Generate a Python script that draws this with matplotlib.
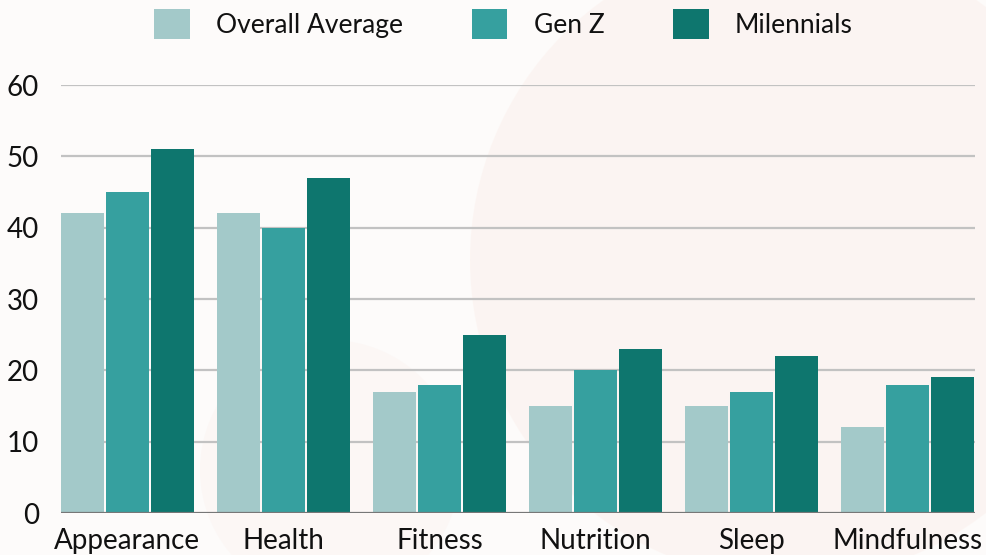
import matplotlib
matplotlib.use("Agg")
import matplotlib.pyplot as plt
from matplotlib.patches import Patch, Ellipse
import numpy as np

categories = ["Appearance", "Health", "Fitness", "Nutrition", "Sleep", "Mindfulness"]
overall_average = [42, 42, 17, 15, 15, 12]
gen_z = [45, 40, 18, 20, 17, 18]
millennials = [51, 47, 25, 23, 22, 19]
series_names = ["Overall Average", "Gen Z", "Milennials"]
colors = ["#a3c9c9", "#36a09f", "#0e766e"]
yticks = [0, 10, 20, 30, 40, 50, 60]

plt.rcParams['font.family'] = ['Lato', 'DejaVu Sans']

W, H = 987, 555
fig = plt.figure(figsize=(W / 100, H / 100), dpi=100)
fig.patch.set_facecolor("#fdfbfa")

# faint background decoration
bg = fig.add_axes([0, 0, 1, 1], zorder=-10)
bg.set_xlim(0, W); bg.set_ylim(H, 0); bg.axis("off")
bg.add_patch(Ellipse((790, 260), 640, 640, color="#fbefeb", alpha=0.5, lw=0))
bg.add_patch(Ellipse((330, 470), 260, 260, color="#fcf0ed", alpha=0.35, lw=0))

left, right, top, bottom = 61, 975, 85, 513
ax = fig.add_axes([left / W, 1 - bottom / H, (right - left) / W, (bottom - top) / H])
ax.set_facecolor("none")

x = np.arange(len(categories))
bw = 43 / 156
step = 45 / 156
for i, (vals, c) in enumerate(zip([overall_average, gen_z, millennials], colors)):
    ax.bar(x + (i - 1) * step, vals, width=bw, color=c, zorder=3, linewidth=0)

ax.set_xlim(-0.426, 5.433)
ax.set_ylim(0, 60)
ax.set_yticks(yticks)
ax.set_yticklabels([str(t) for t in yticks])
ax.set_xticks(x)
ax.set_xticklabels(categories)
ax.tick_params(axis="both", length=0, labelsize=20, colors="#111111")
ax.tick_params(axis="y", pad=16)
ax.tick_params(axis="x", pad=11)
for t in yticks[1:]:
    ax.axhline(t, color="#c2c2c2", lw=1.6, zorder=1)
ax.axhline(0, color="#777777", lw=1.6, zorder=4)
for s in ax.spines.values():
    s.set_visible(False)

handles = [Patch(facecolor=c, edgecolor="none") for c in colors]
fig.legend(handles, series_names, loc="center", bbox_to_anchor=(0.51, 1 - 24 / H),
           ncol=3, frameon=False, fontsize=19, handlelength=1.35, handleheight=1.35,
           handletextpad=1.0, columnspacing=2.6, labelcolor="#111111")

fig.savefig("out.png", dpi=100, facecolor=fig.get_facecolor())
